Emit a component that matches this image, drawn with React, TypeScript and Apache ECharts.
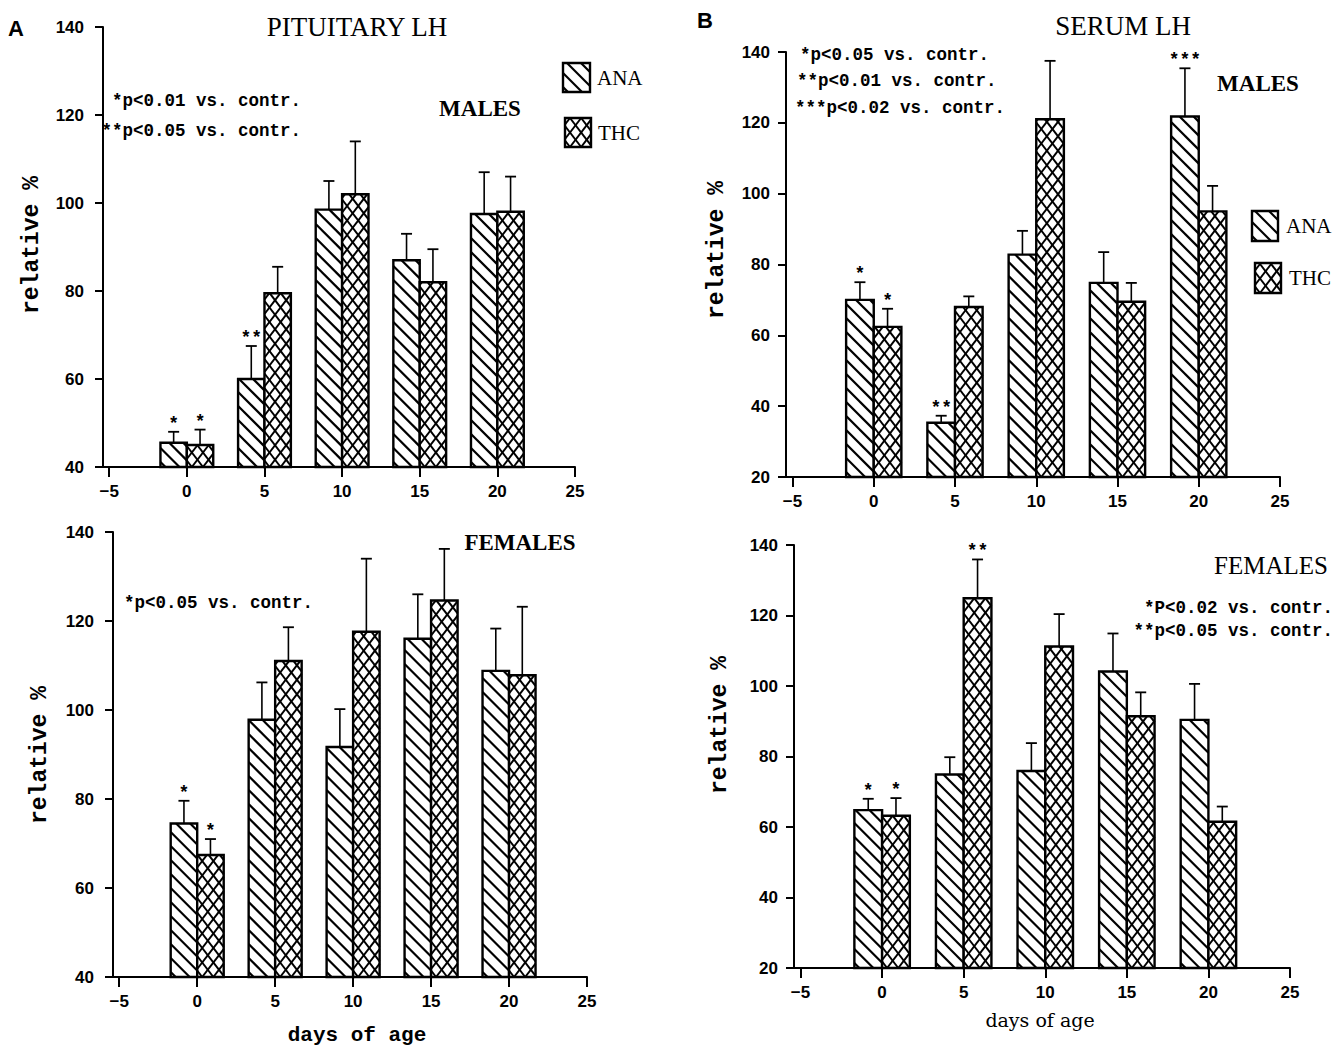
import React, { useEffect, useRef } from 'react';
import * as echarts from 'echarts';

// ---------- data ----------
const days = [0, 5, 10, 15, 20];
const xTickValues = [-5, 0, 5, 10, 15, 20, 25];

// A – Pituitary LH, males
const pitMaleANA = [45.5, 60, 98.5, 87, 97.5];
const pitMaleANAErr = [48, 67.5, 105, 93, 107];
const pitMaleTHC = [45, 79.5, 102, 82, 98];
const pitMaleTHCErr = [48.5, 85.5, 114, 89.5, 106];
const pitMaleANASig = ['*', '**', '', '', ''];
const pitMaleTHCSig = ['*', '', '', '', ''];

// A – Pituitary LH, females
const pitFemANA = [74.5, 97.8, 91.7, 116, 108.8];
const pitFemANAErr = [79.6, 106.2, 100.2, 126, 118.3];
const pitFemTHC = [67.4, 111, 117.6, 124.6, 107.8];
const pitFemTHCErr = [71, 118.6, 134, 136.2, 123.2];
const pitFemANASig = ['*', '', '', '', ''];
const pitFemTHCSig = ['*', '', '', '', ''];

// B – Serum LH, males
const serMaleANA = [70, 35.3, 82.8, 74.8, 121.8];
const serMaleANAErr = [75, 37.3, 89.5, 83.5, 135.4];
const serMaleTHC = [62.4, 68, 121, 69.5, 95];
const serMaleTHCErr = [67.5, 71, 137.5, 74.8, 102.2];
const serMaleANASig = ['*', '**', '', '', '***'];
const serMaleTHCSig = ['*', '', '', '', ''];

// B – Serum LH, females
const serFemANA = [64.8, 74.9, 75.9, 104.1, 90.4];
const serFemANAErr = [68, 79.8, 83.8, 114.9, 100.6];
const serFemTHC = [63.2, 124.9, 111.2, 91.4, 61.5];
const serFemTHCErr = [68.2, 135.9, 120.4, 98.2, 65.8];
const serFemANASig = ['*', '', '', '', ''];
const serFemTHCSig = ['*', '**', '', '', ''];

// ---------- styling ----------
const BAR_W = 1.7;
const X_MIN = -5.4;
const X_MAX = 25;
const MONO = "'Liberation Mono', 'DejaVu Sans Mono', monospace";
const SERIF = "'Liberation Serif', 'DejaVu Serif', serif";
const SANS = "'Liberation Sans', Arial, sans-serif";

function hatchLines(x0: number, y0: number, x1: number, y1: number, slope: number, spacing: number, lw: number, ax: number, ay: number) {
  const out: any[] = [];
  const corners = [[x0, y0], [x1, y0], [x0, y1], [x1, y1]];
  const ks = corners.map(([x, y]) => (y - ay - slope * (x - ax)) / spacing);
  const kmin = Math.ceil(Math.min(...ks));
  const kmax = Math.floor(Math.max(...ks));
  for (let k = kmin; k <= kmax; k++) {
    const c = ay + k * spacing;
    const xa = ax + (y0 - c) / slope;
    const xb = ax + (y1 - c) / slope;
    const lo = Math.max(x0, Math.min(xa, xb));
    const hi = Math.min(x1, Math.max(xa, xb));
    if (hi - lo > 0.6) {
      out.push({
        type: 'line',
        silent: true,
        shape: { x1: lo, y1: c + slope * (lo - ax), x2: hi, y2: c + slope * (hi - ax) },
        style: { stroke: '#000', lineWidth: lw },
      });
    }
  }
  return out;
}

function hatchedBox(x0: number, y0: number, x1: number, y1: number, kind: string) {
  const children: any[] = [];
  children.push({ type: 'rect', shape: { x: x0, y: y0, width: x1 - x0, height: y1 - y0 }, style: { fill: '#fff', stroke: 'none' } });
  if (kind === 'ANA') {
    children.push(...hatchLines(x0, y0, x1, y1, 1, 14, 2.2, x0, y1 - 5));
  } else {
    children.push(...hatchLines(x0, y0, x1, y1, 1.3, 14.5, 2, x0 + 5, y1));
    children.push(...hatchLines(x0, y0, x1, y1, -1.3, 14.5, 2, x0 + 5, y1));
  }
  children.push({ type: 'rect', shape: { x: x0, y: y0, width: x1 - x0, height: y1 - y0 }, style: { fill: 'none', stroke: '#000', lineWidth: 2.4 } });
  return children;
}

const panels = [
  { grid: { left: 103, top: 27, width: 472, height: 440 }, yMin: 40, yMax: 140, ana: pitMaleANA, anaErr: pitMaleANAErr, anaSig: pitMaleANASig, thc: pitMaleTHC, thcErr: pitMaleTHCErr, thcSig: pitMaleTHCSig },
  { grid: { left: 113, top: 532, width: 474, height: 445 }, yMin: 40, yMax: 140, ana: pitFemANA, anaErr: pitFemANAErr, anaSig: pitFemANASig, thc: pitFemTHC, thcErr: pitFemTHCErr, thcSig: pitFemTHCSig },
  { grid: { left: 786, top: 52, width: 494, height: 425 }, yMin: 20, yMax: 140, ana: serMaleANA, anaErr: serMaleANAErr, anaSig: serMaleANASig, thc: serMaleTHC, thcErr: serMaleTHCErr, thcSig: serMaleTHCSig },
  { grid: { left: 794, top: 545, width: 496, height: 423 }, yMin: 20, yMax: 140, ana: serFemANA, anaErr: serFemANAErr, anaSig: serFemANASig, thc: serFemTHC, thcErr: serFemTHCErr, thcSig: serFemTHCSig },
];

function makeRender(kind: string, sigs: string[], yMin: number) {
  return (params: any, api: any) => {
    const day = api.value(0);
    const v = api.value(1);
    const e = api.value(2);
    const xl = kind === 'ANA' ? day - BAR_W : day;
    const xr = kind === 'ANA' ? day : day + BAR_W;
    const tl = api.coord([xl, v]);
    const br = api.coord([xr, yMin]);
    const pe = api.coord([(xl + xr) / 2, e]);
    const cx = (tl[0] + br[0]) / 2;
    const children = hatchedBox(tl[0], tl[1], br[0], br[1], kind);
    children.push({ type: 'line', shape: { x1: cx, y1: tl[1], x2: cx, y2: pe[1] }, style: { stroke: '#000', lineWidth: 1.6 } });
    children.push({ type: 'line', shape: { x1: cx - 5.5, y1: pe[1], x2: cx + 5.5, y2: pe[1] }, style: { stroke: '#000', lineWidth: 1.8 } });
    const sig = sigs[params.dataIndex];
    if (sig) {
      children.push({
        type: 'text',
        x: cx,
        y: pe[1] - 8,
        style: { text: sig, fontSize: 18, fontFamily: MONO, fontWeight: 'bold', fill: '#000', align: 'center', verticalAlign: 'middle' },
      });
    }
    return { type: 'group', children };
  };
}

function txt(text: string, x: number, y: number, font: any, align = 'left', rotation = 0) {
  return {
    type: 'text',
    x,
    y,
    rotation,
    silent: true,
    style: {
      text,
      fill: '#000',
      align,
      verticalAlign: 'middle',
      textAlign: align,
      textVerticalAlign: 'middle',
      ...font,
    },
  };
}

function legendIcon(x0: number, y0: number, w: number, h: number, kind: string) {
  return { type: 'group', silent: true, children: hatchedBox(x0, y0, x0 + w, y0 + h, kind) };
}

export default function App() {
  const ref = useRef<HTMLDivElement>(null);
  useEffect(() => {
    if (!ref.current) return;
    const chart = echarts.init(ref.current, undefined, { renderer: 'svg' });
    const axisColor = '#000';
    const tickFont = { color: '#000', fontFamily: SANS, fontSize: 17, fontWeight: 'bold' };

    const grid = panels.map((p) => ({ ...p.grid, containLabel: false }));
    const xAxis = panels.map((p, i) => ({
      gridIndex: i,
      type: 'value',
      min: X_MIN,
      max: X_MAX,
      axisLine: { show: true, onZero: false, lineStyle: { color: axisColor, width: 2 } },
      axisTick: { show: true, customValues: xTickValues, length: 10, lineStyle: { color: axisColor, width: 2 } },
      axisLabel: {
        customValues: xTickValues,
        margin: 16,
        ...tickFont,
        formatter: (v: number) => (Math.abs(v - Math.round(v / 5) * 5) < 1e-6 ? (v < 0 ? '\u2212' + Math.abs(v) : String(v)) : ''),
      },
      splitLine: { show: false },
    }));
    const yAxis = panels.map((p, i) => ({
      gridIndex: i,
      type: 'value',
      min: p.yMin,
      max: p.yMax,
      interval: 20,
      axisLine: { show: true, onZero: false, lineStyle: { color: axisColor, width: 2 } },
      axisTick: { show: true, length: 8, lineStyle: { color: axisColor, width: 2 } },
      axisLabel: { margin: i < 2 ? 19 : 16, ...tickFont },
      splitLine: { show: false },
    }));

    const series: any[] = [];
    panels.forEach((p, i) => {
      series.push({
        type: 'custom',
        name: 'ANA',
        xAxisIndex: i,
        yAxisIndex: i,
        clip: false,
        data: days.map((d, j) => [d, p.ana[j], p.anaErr[j]]),
        encode: { x: 0, y: 1 },
        renderItem: makeRender('ANA', p.anaSig, p.yMin),
      });
      series.push({
        type: 'custom',
        name: 'THC',
        xAxisIndex: i,
        yAxisIndex: i,
        clip: false,
        data: days.map((d, j) => [d, p.thc[j], p.thcErr[j]]),
        encode: { x: 0, y: 1 },
        renderItem: makeRender('THC', p.thcSig, p.yMin),
      });
    });

    const panelLetter = { fontFamily: SANS, fontSize: 22, fontWeight: 'bold' };
    const titleFont = { fontFamily: SERIF, fontSize: 27 };
    const sexBold = { fontFamily: SERIF, fontSize: 23, fontWeight: 'bold' };
    const sexReg = { fontFamily: SERIF, fontSize: 25 };
    const noteFont = { fontFamily: MONO, fontSize: 17.5, fontWeight: 'bold' };
    const yTitle = { fontFamily: MONO, fontSize: 23, fontWeight: 'bold' };
    const legendFont = { fontFamily: SERIF, fontSize: 21 };

    const graphic: any[] = [
      txt('A', 8, 28, panelLetter),
      txt('B', 697, 20, panelLetter),
      txt('PITUITARY LH', 357, 27, titleFont, 'center'),
      txt('SERUM LH', 1123, 26, titleFont, 'center'),
      txt('MALES', 480, 108, sexBold, 'center'),
      txt('FEMALES', 520, 542, sexBold, 'center'),
      txt('MALES', 1258, 83, sexBold, 'center'),
      txt('FEMALES', 1271, 565, sexReg, 'center'),
      txt('*p<0.01 vs. contr.', 301, 101, noteFont, 'right'),
      txt('**p<0.05 vs. contr.', 301, 131, noteFont, 'right'),
      txt('*p<0.05 vs. contr.', 124, 603, noteFont, 'left'),
      txt('*p<0.05 vs. contr.', 800, 55, noteFont, 'left'),
      txt('**p<0.01 vs. contr.', 797, 81, noteFont, 'left'),
      txt('***p<0.02 vs. contr.', 795, 108, noteFont, 'left'),
      txt('*P<0.02 vs. contr.', 1333, 608, noteFont, 'right'),
      txt('**p<0.05 vs. contr.', 1333, 631, noteFont, 'right'),
      txt('relative %', 32, 245, yTitle, 'center', Math.PI / 2),
      txt('relative %', 40, 755, yTitle, 'center', Math.PI / 2),
      txt('relative %', 717, 250, yTitle, 'center', Math.PI / 2),
      txt('relative %', 720, 725, yTitle, 'center', Math.PI / 2),
      txt('days of age', 357, 1035, { fontFamily: MONO, fontSize: 21, fontWeight: 'bold' }, 'center'),
      txt('days of age', 1040, 1020, { fontFamily: "'DejaVu Serif', serif", fontSize: 19 }, 'center'),
      legendIcon(563, 63, 27, 29, 'ANA'),
      txt('ANA', 597, 78, legendFont, 'left'),
      legendIcon(565, 118, 26, 29, 'THC'),
      txt('THC', 598, 133, legendFont, 'left'),
      legendIcon(1252, 211, 26, 30, 'ANA'),
      txt('ANA', 1286, 226, legendFont, 'left'),
      legendIcon(1255, 263, 26, 30, 'THC'),
      txt('THC', 1289, 278, legendFont, 'left'),
    ];

    chart.setOption({
      animation: false,
      backgroundColor: '#fff',
      grid,
      xAxis,
      yAxis,
      series,
      graphic,
    });
    return () => chart.dispose();
  }, []);

  return (
    <div
      ref={ref}
      style={{ position: 'fixed', left: 0, top: 0, width: 1335, height: 1047, background: '#fff' }}
    />
  );
}
